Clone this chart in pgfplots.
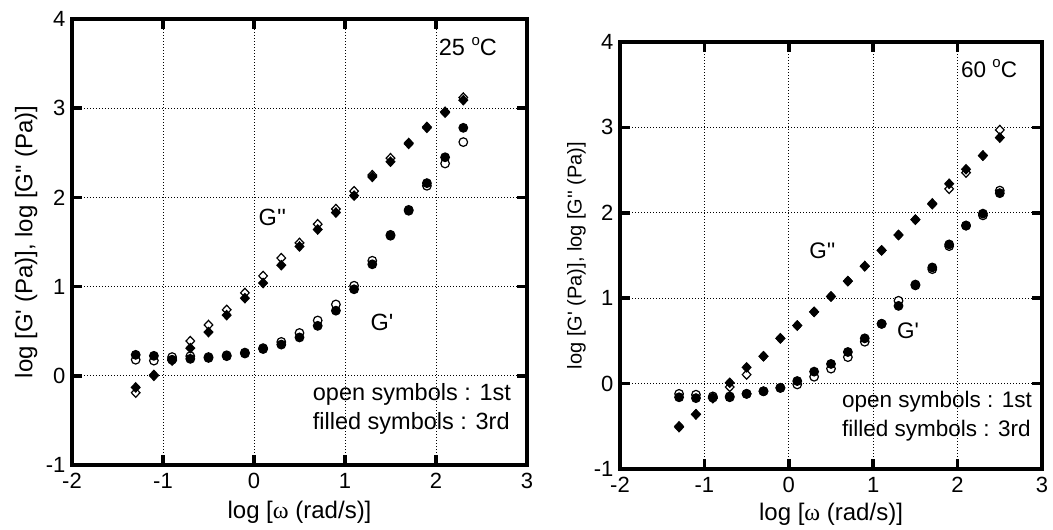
\documentclass[border=0pt]{standalone}
\usepackage{fontspec}
\setmainfont{Liberation Sans}
\newfontfamily\serifw{Liberation Serif}
\usepackage{pgfplots}
\pgfplotsset{compat=1.18}
\newcommand{\qq}{\textquotesingle}
\newcommand{\degc}{\raisebox{0.42em}{\fontsize{15}{15}\selectfont o}C}

\tikzset{ann/.style={font=\fontsize{23.5}{23.5}\selectfont, inner sep=0pt},
         annr/.style={font=\fontsize{22.5}{22.5}\selectfont, inner sep=0pt}}
\pgfplotsset{
  rheo/.style={
    scale only axis,
    xmin=-2, xmax=3, ymin=-1, ymax=4,
    xtick={-2,-1,0,1,2,3}, ytick={-1,0,1,2,3,4},
    grid=major,
    major grid style={black, line width=0.8pt, dash pattern=on 1.2pt off 1.8pt},
    tick style={black, line width=3.5pt},
    every major tick/.append style={black, line width=3.5pt},
    major tick length=10pt,
    tick align=inside,
    /pgf/number format/assume math mode=true,
    ticklabel style={font=\fontsize{22}{22}\selectfont},
    xticklabel style={yshift=-5pt},
    yticklabel style={xshift=-3pt},
    xlabel style={font=\fontsize{24}{24}\selectfont},
    clip=false,
  },
  oC/.style={only marks, mark=*, mark size=4.3pt, mark options={fill=white, draw=black, line width=1.2pt}},
  fC/.style={only marks, mark=*, mark size=4.3pt, mark options={fill=black, draw=black, line width=1.2pt}},
  oD/.style={only marks, mark=diamond*, mark size=4.6pt, mark options={xscale=1.25, fill=white, draw=black, line width=1.2pt}},
  fD/.style={only marks, mark=diamond*, mark size=4.6pt, mark options={xscale=1.25, fill=black, draw=black, line width=1.2pt}},
}

\begin{document}
\begin{tikzpicture}
\path[use as bounding box] (0,0) rectangle (1053pt,530pt);

% ---------------- left panel: 25 C ----------------
\begin{axis}[rheo, name=L,
  at={(72pt,65pt)}, anchor=south west,
  width=455pt, height=446pt,
  xlabel={log [{\serifw ω} (rad/s)]},
  ylabel={log [G\qq{} (Pa)], log [G\qq\qq{} (Pa)]},
  xlabel style={at={(axis description cs:0.5,-0.105)}, anchor=center},
  ylabel style={at={(axis description cs:-0.101,0.5)}, anchor=center, font=\fontsize{24}{24}\selectfont},
]
% G'' open (1st)
\addplot[oD] table {
x y
-1.3 -0.19
-1.1 0.01
-0.9 0.19
-0.7 0.39
-0.5 0.57
-0.3 0.74
-0.1 0.93
0.1 1.12
0.3 1.32
0.5 1.49
0.7 1.70
0.9 1.87
1.1 2.07
1.3 2.25
1.5 2.44
1.7 2.61
1.9 2.79
2.1 2.96
2.3 3.12
};
% G' open (1st)
\addplot[oC] table {
x y
-1.3 0.18
-1.1 0.17
-0.9 0.21
-0.7 0.22
-0.5 0.21
-0.3 0.23
-0.1 0.26
0.1 0.31
0.3 0.38
0.5 0.48
0.7 0.62
0.9 0.80
1.1 1.01
1.3 1.29
1.5 1.58
1.7 1.86
1.9 2.13
2.1 2.38
2.3 2.62
};
% G'' filled (3rd)
\addplot[fD] table {
x y
-1.3 -0.13
-1.1 0.00
-0.9 0.17
-0.7 0.31
-0.5 0.49
-0.3 0.68
-0.1 0.87
0.1 1.04
0.3 1.24
0.5 1.45
0.7 1.64
0.9 1.83
1.1 2.02
1.3 2.23
1.5 2.40
1.7 2.60
1.9 2.78
2.1 2.95
2.3 3.09
};
% G' filled (3rd)
\addplot[fC] table {
x y
-1.3 0.235
-1.1 0.224
-0.9 0.18
-0.7 0.19
-0.5 0.20
-0.3 0.22
-0.1 0.25
0.1 0.30
0.3 0.35
0.5 0.43
0.7 0.56
0.9 0.73
1.1 0.97
1.3 1.25
1.5 1.57
1.7 1.85
1.9 2.16
2.1 2.45
2.3 2.78
};
\node[ann, anchor=west] at (axis cs:2.03,3.69) {25 \degc};
\node[ann, anchor=west] at (axis cs:0.05,1.78) {G\qq\qq};
\node[ann, anchor=west] at (axis cs:1.28,0.60) {G\qq};
\node[ann, anchor=west] at (axis cs:0.645,-0.21) {open symbols : 1st};
\node[ann, anchor=west] at (axis cs:0.645,-0.53) {filled symbols : 3rd};
\end{axis}
\draw[black, line width=3.5pt] (72pt,65pt) rectangle (527pt,511pt);

% ---------------- right panel: 60 C ----------------
\begin{axis}[rheo, name=R,
  at={(620pt,61pt)}, anchor=south west,
  width=422pt, height=427pt,
  xlabel={log [{\serifw ω} (rad/s)]},
  ylabel={log [G\qq{} (Pa)], log [G\qq\qq{} (Pa)]},
  xlabel style={at={(axis description cs:0.5,-0.105)}, anchor=center},
  ylabel style={at={(axis description cs:-0.103,0.5)}, anchor=center, font=\fontsize{20}{20}\selectfont},
]
% G'' open (1st)
\addplot[oD] table {
x y
-1.3 -0.50
-1.1 -0.36
-0.9 -0.17
-0.7 -0.04
-0.5 0.105
-0.3 0.32
-0.1 0.53
0.1 0.68
0.3 0.84
0.5 1.02
0.7 1.20
0.9 1.375
1.1 1.56
1.3 1.74
1.5 1.92
1.7 2.10
1.9 2.28
2.1 2.47
2.3 2.67
2.5 2.97
};
% G' open (1st)
\addplot[oC] table {
x y
-1.3 -0.12
-1.1 -0.13
-0.9 -0.15
-0.7 -0.15
-0.5 -0.12
-0.3 -0.09
-0.1 -0.05
0.1 -0.01
0.3 0.08
0.5 0.175
0.7 0.31
0.9 0.49
1.1 0.70
1.3 0.97
1.5 1.16
1.7 1.34
1.9 1.61
2.1 1.85
2.3 1.97
2.5 2.26
};
% G'' filled (3rd)
\addplot[fD] table {
x y
-1.3 -0.51
-1.1 -0.36
-0.9 -0.17
-0.7 0.01
-0.5 0.19
-0.3 0.32
-0.1 0.53
0.1 0.68
0.3 0.84
0.5 1.02
0.7 1.20
0.9 1.375
1.1 1.56
1.3 1.74
1.5 1.92
1.7 2.11
1.9 2.34
2.1 2.51
2.3 2.67
2.5 2.88
};
% G' filled (3rd)
\addplot[fC] table {
x y
-1.3 -0.16
-1.1 -0.17
-0.9 -0.165
-0.7 -0.16
-0.5 -0.12
-0.3 -0.09
-0.1 -0.05
0.1 0.03
0.3 0.14
0.5 0.23
0.7 0.37
0.9 0.53
1.1 0.70
1.3 0.91
1.5 1.15
1.7 1.36
1.9 1.63
2.1 1.85
2.3 1.99
2.5 2.23
};
\node[annr, anchor=west] at (axis cs:2.04,3.69) {60 \degc};
\node[annr, anchor=west] at (axis cs:0.24,1.56) {G\qq\qq};
\node[annr, anchor=west] at (axis cs:1.28,0.62) {G\qq};
\node[annr, anchor=west] at (axis cs:0.63,-0.21) {open symbols : 1st};
\node[annr, anchor=west] at (axis cs:0.63,-0.55) {filled symbols : 3rd};
\end{axis}
\draw[black, line width=3.5pt] (620pt,61pt) rectangle (1042pt,488pt);
\end{tikzpicture}
\end{document}
